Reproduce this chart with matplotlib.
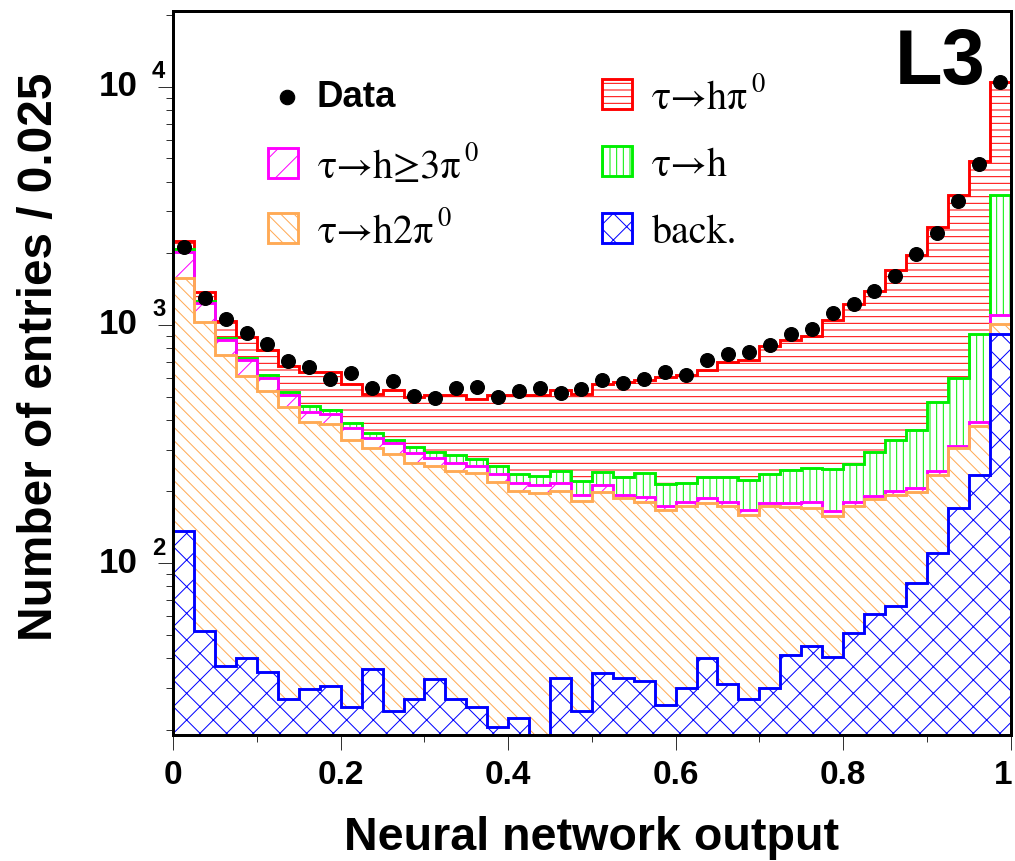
import numpy as np
import matplotlib
matplotlib.use("Agg")
import matplotlib.pyplot as plt
from matplotlib.patches import Rectangle
from matplotlib.ticker import MultipleLocator, LogLocator, NullFormatter
from matplotlib.transforms import blended_transform_factory

# neural network output, 40 bins of width 0.025
edges = np.linspace(0.0, 1.0, 41)
centers = 0.5 * (edges[:-1] + edges[1:])

data = [2131, 1293, 1058, 926, 830, 705, 668, 595, 627, 543,
        582, 502, 495, 546, 549, 498, 528, 544, 518, 541,
        590, 571, 593, 635, 615, 711, 758, 770, 827, 920,
        960, 1124, 1230, 1389, 1611, 1992, 2440, 3313, 4753, 10450]

# Monte Carlo channels, stacked from the bottom up
back = [137, 52, 37, 40, 35, 27, 29.5, 30.5, 25, 36,
        24, 27, 32.5, 27, 25, 20.5, 22.5, 15, 33, 24,
        34.5, 33, 32, 25.5, 30, 40, 31, 27, 30, 41,
        45, 40.5, 51, 61, 66, 82.5, 110, 171, 234, 918]
h2pi0 = [1442, 982, 709, 571, 494, 426, 360.5, 353.5, 305, 268,
         264, 236, 224.5, 217, 214, 198.5, 178.5, 182, 168, 159,
         164.5, 154, 148, 142.5, 143, 139, 142, 133, 143, 131,
         126, 117.5, 123, 125, 128, 116.5, 124, 133, 144, 92]
h3pi0 = [448, 204, 120, 99, 72, 55, 40, 39, 41, 32,
         31, 27, 20, 19, 18, 18, 16, 15, 16, 10,
         13, 6, 10, 6, 7, 8, 7, 8, 6, 7,
         10, 8, 7, 5, 6, 7, 9, 7, 12, 90]
h1 = [49, 21, 16, 17, 14, 13, 26, 18, 15, 17,
      11, 17, 16, 21, 18, 20, 20, 20, 27, 28,
      29, 37, 49, 42, 37, 43, 50, 56, 58, 68,
      69, 83, 79, 103, 130, 155, 230, 287, 528, 2397]
hpi0 = [165, 122, 160, 161, 170, 154, 180, 191, 180, 159,
        202, 191, 214, 223, 212, 253, 273, 278, 291, 294,
        326, 346, 347, 389, 402, 419, 469, 491, 577, 621,
        647, 802, 959, 1095, 1371, 1614, 2112, 2899, 3942, 6953]

xticks = [0, 0.2, 0.4, 0.6, 0.8, 1.0]
xticklabels = ['0', '0.2', '0.4', '0.6', '0.8', '1']

RED = '#ff0000'
GREEN = '#00f000'
MAGENTA = '#ff00ff'
ORANGE = '#ffaa55'
BLUE = '#0000ff'

plt.rcParams['font.family'] = ['Liberation Sans', 'DejaVu Sans']
plt.rcParams['hatch.linewidth'] = 0.9
SERIF = ['STIXGeneral', 'Liberation Serif', 'DejaVu Serif']

DPI = 80
fig = plt.figure(figsize=(1015 / DPI, 861 / DPI), dpi=DPI)
ax = fig.add_axes([173.3 / 1015, 126 / 861, 837.2 / 1015, 724 / 861])
ax.set_yscale('log')
ax.set_xlim(0, 1)
ax.set_ylim(19, 20800)

layers = [(back, BLUE, 'x'), (h2pi0, ORANGE, '\\\\'), (h3pi0, MAGENTA, '/'),
          (h1, GREEN, '||'), (hpi0, RED, '--')]

bottom = np.zeros(len(centers))
tops = []
for vals, col, hatch in layers:
    top = bottom + np.asarray(vals, float)
    ax.stairs(top, edges, baseline=np.maximum(bottom, 1.0), fill=True,
              facecolor='none', edgecolor=col, hatch=hatch, lw=0, zorder=1)
    tops.append((top, col))
    bottom = top

# histogram outlines, largest first so the lower ones sit on top
for top, col in reversed(tops):
    ax.stairs(top, edges, baseline=1.0, fill=False, color=col, lw=2.6, zorder=2)

ax.plot(centers, data, 'o', color='black', ms=12.5, zorder=5)

# axes styling
for sp in ax.spines.values():
    sp.set_linewidth(2.7)
ax.xaxis.set_minor_locator(MultipleLocator(0.1))
ax.set_xticks(xticks)
# the last label is placed by hand, nudged in from the figure edge
ax.set_xticklabels(xticklabels[:-1] + [''], fontsize=30, fontweight='bold')
ax.annotate(xticklabels[-1], xy=(xticks[-1], 0),
            xycoords=('data', 'axes fraction'), xytext=(-7, -25),
            textcoords='offset pixels', ha='center', va='top',
            fontsize=30, fontweight='bold')
ax.yaxis.set_major_locator(LogLocator(base=10))
ax.yaxis.set_minor_locator(LogLocator(base=10, subs=np.arange(2, 10)))
ax.yaxis.set_major_formatter(NullFormatter())
ax.yaxis.set_minor_formatter(NullFormatter())
ax.tick_params(which='major', direction='out', length=13.5, width=0.9,
               color='#333333', pad=9)
ax.tick_params(which='minor', direction='out', length=6.5, width=0.9,
               color='#333333')
ax.tick_params(top=False, right=False, which='both')

# ROOT style y labels: "10" with the exponent set apart
ytr = blended_transform_factory(ax.transAxes, ax.transData)
for expo in (2, 3, 4):
    t = ax.text(-0.0422, 10.0 ** expo, '10', transform=ytr, ha='right',
                va='center', fontsize=31.5, fontweight='bold')
    ax.annotate(str(expo), xy=(1, 1), xycoords=t, xytext=(14, 10),
                textcoords='offset pixels', ha='left', va='top',
                fontsize=21.5, fontweight='bold')

ax.set_xlabel('Neural network output', fontsize=42, fontweight='bold')
ax.xaxis.set_label_coords(0.5, -0.112)
ax.set_ylabel('Number of entries / 0.025', fontsize=43, fontweight='bold')
ax.yaxis.set_label_coords(-0.133, 0.522)

ax.text(0.9695, 0.8985, 'L3', transform=ax.transAxes, ha='right',
        va='baseline', fontsize=70, fontweight='bold')

# legend
BW, BH = 30 / 837.2, 30 / 724


def legend_entry(x, y, col, hatch, text, sup=None):
    ax.add_patch(Rectangle((x, y), BW, BH, transform=ax.transAxes,
                           facecolor='white', edgecolor=col, hatch=hatch,
                           lw=2.6, clip_on=False, zorder=6))
    t = ax.text(x + 0.0602, y, text, transform=ax.transAxes, ha='left',
                va='baseline', fontsize=36, family=SERIF, zorder=6)
    if sup:
        ax.annotate(sup, xy=(1, 1), xycoords=t, xytext=(3, 8),
                    textcoords='offset pixels', ha='left', va='top',
                    fontsize=24, family=SERIF, zorder=6)


ax.plot([0.1362], [0.8812], 'o', color='black', ms=13, transform=ax.transAxes,
        clip_on=False, zorder=6)
ax.text(0.1716, 0.8674, 'Data', transform=ax.transAxes, ha='left',
        va='baseline', fontsize=33, fontweight='bold', zorder=6)
legend_entry(0.1126, 0.7693, MAGENTA, '/', 'τ→h≥3π', '0')
legend_entry(0.1126, 0.6796, ORANGE, '\\\\', 'τ→h2π', '0')
legend_entry(0.5117, 0.8646, RED, '--', 'τ→hπ', '0')
legend_entry(0.5117, 0.7721, GREEN, '||', 'τ→h')
legend_entry(0.5117, 0.6796, BLUE, 'x', 'back.')

fig.savefig('out.png', dpi=DPI)
